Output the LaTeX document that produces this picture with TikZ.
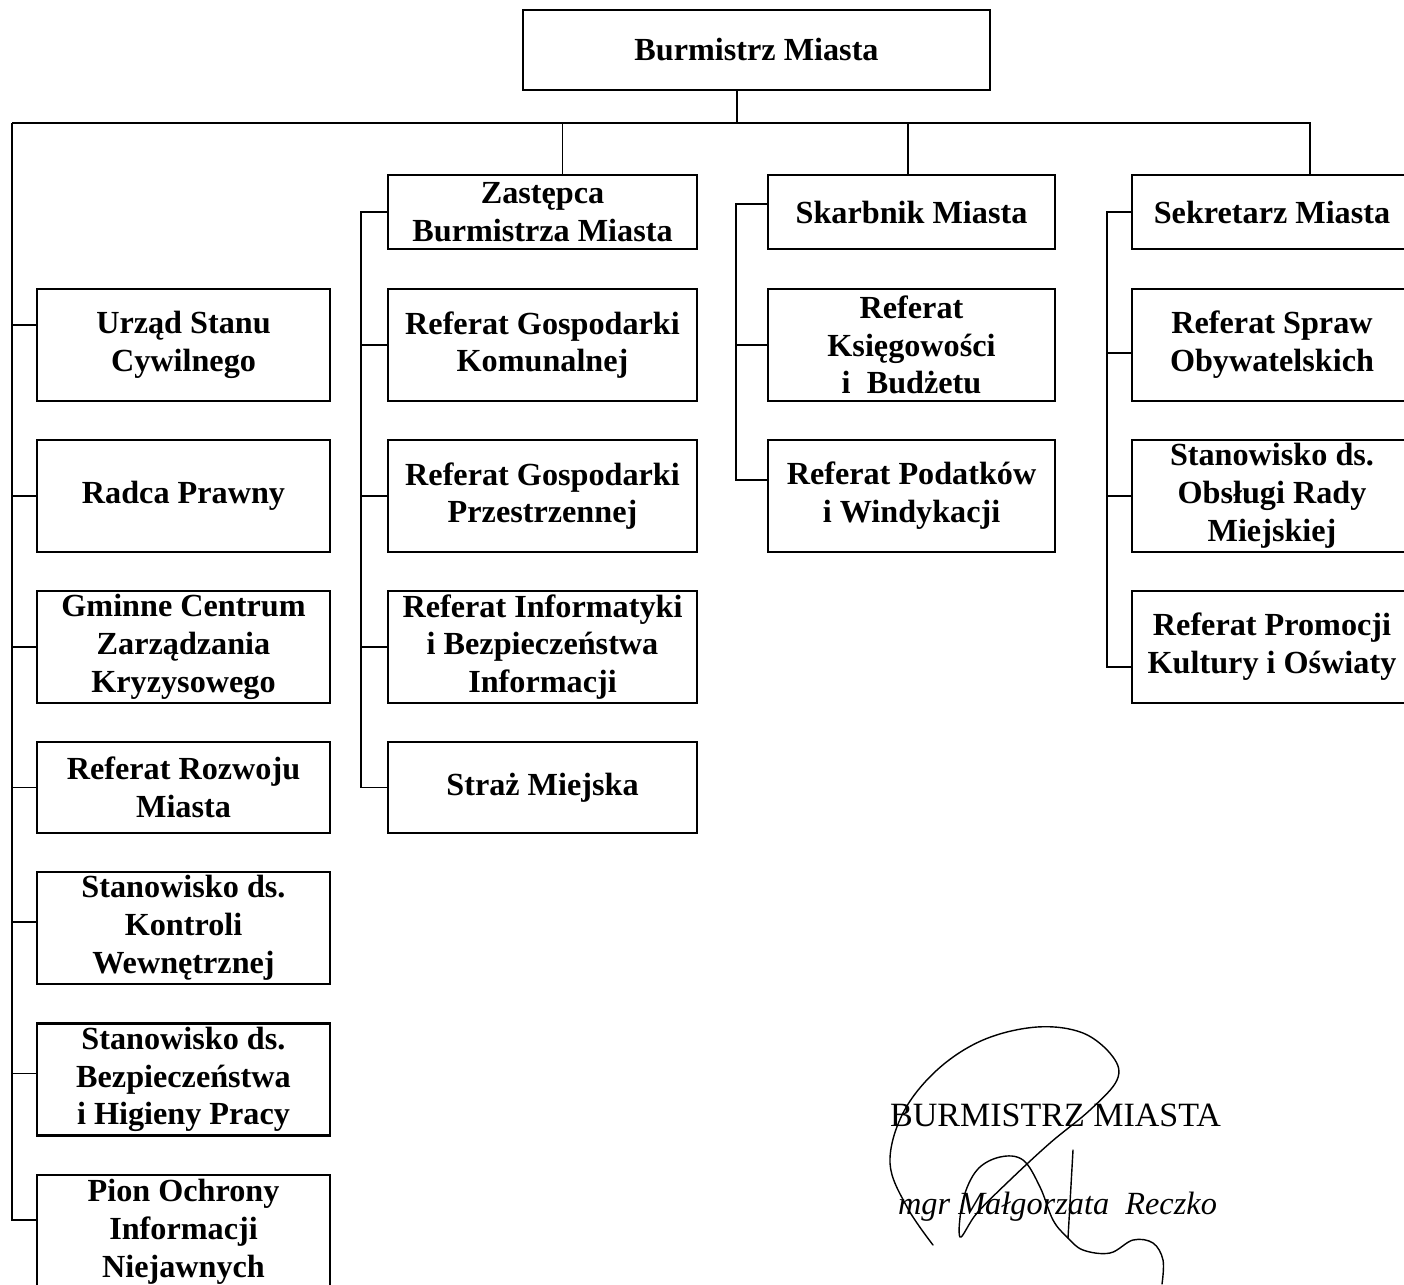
\documentclass[tikz,border=0pt]{standalone}
\usepackage{fontspec}
\setmainfont{Liberation Serif}
\begin{document}
\begin{tikzpicture}[x=0.025cm,y=-0.025cm,line width=1.5pt,
box/.style={draw,align=center,inner sep=0pt,minimum height=2.8cm,font=\bfseries\fontsize{22.9}{26.9}\selectfont},
head/.style={box,minimum height=1.85cm},
short/.style={box,minimum height=2.275cm},
colA/.style={minimum width=7.325cm},
colB/.style={minimum width=7.725cm},
colC/.style={minimum width=7.175cm},
colD/.style={minimum width=7cm},
link/.style={line width=1.3pt},
sign/.style={line width=1pt,line cap=round}]
\useasboundingbox(0,0)rectangle(1404,1284);
\node[box,minimum width=11.675cm,minimum height=2cm](burm)at(756.5,50){Burmistrz Miasta};
\node[head,colB](zast)at(542.5,212){Zastępca\\Burmistrza Miasta};
\node[head,colC](skarb)at(911.5,212){Skarbnik Miasta};
\node[head,colD](sekr)at(1272,212){Sekretarz Miasta};
\node[box,colA](usc)at(183.5,345){Urząd Stanu\\Cywilnego};
\node[box,colA](radca)at(183.5,496){Radca Prawny};
\node[box,colA](gczk)at(183.5,647){Gminne Centrum\\Zarządzania\\Kryzysowego};
\node[short,colA](rozw)at(183.5,787.5){Referat Rozwoju\\Miasta};
\node[box,colA](kontr)at(183.5,928){Stanowisko ds.\\Kontroli\\Wewnętrznej};
\node[box,colA](bhp)at(183.5,1079.5){Stanowisko ds.\\Bezpieczeństwa\\i Higieny Pracy};
\node[box,colA,minimum height=2.85cm](pion)at(183.5,1232){Pion Ochrony\\Informacji\\Niejawnych};
\node[box,colB](komun)at(542.5,345){Referat Gospodarki\\Komunalnej};
\node[box,colB](przestrz)at(542.5,496){Referat Gospodarki\\Przestrzennej};
\node[box,colB](inform)at(542.5,647){Referat Informatyki\\i Bezpieczeństwa\\Informacji};
\node[short,colB](straz)at(542.5,787.5){Straż Miejska};
\node[box,colC](ksieg)at(911.5,345){Referat\\Księgowości\\i\ \ Budżetu};
\node[box,colC](podat)at(911.5,496){Referat Podatków\\i Windykacji};
\node[box,colD](spraw)at(1272,345){Referat Spraw\\Obywatelskich};
\node[box,colD](rada)at(1272,496){Stanowisko ds.\\Obsługi Rady\\Miejskiej};
\node[box,colD](promo)at(1272,647){Referat Promocji\\Kultury i Oświaty};
\coordinate(hub)at(737,123);
\coordinate(lbus)at(12,123);
\path([xshift=0.5cm]zast.north)coordinate(zd);
\path([xshift=-0.09cm]skarb.north)coordinate(kd);
\path([xshift=0.95cm]sekr.north)coordinate(sd);
\draw[link](burm.south-|hub)--(hub);
\draw[link](lbus)--(sd|-hub)--(sd);
\draw[link](zd|-hub)--(zd);
\draw[link](kd|-hub)--(kd);
\draw[link](lbus)|-([yshift=0.3cm]pion.west);
\foreach \n/\s in {usc/0.5,radca/0,gczk/0,rozw/0,kontr/0.15,bhp/0.15}
\draw[link]([yshift=\s cm]\n.west)--([yshift=\s cm]\n.west-|lbus);
\draw[link](zast.west)--++(-26,0)|-(straz.west);
\foreach \n in {komun,przestrz,inform}\draw[link](\n.west)--++(-26,0);
\draw[link]([yshift=0.2cm]skarb.west)--++(-31,0)|-([yshift=0.4cm]podat.west);
\draw[link](ksieg.west)--++(-31,0);
\draw[link](sekr.west)--++(-24,0)|-([yshift=-0.5cm]promo.west);
\draw[link]([yshift=-0.2cm]spraw.west)--++(-24,0);
\draw[link](rada.west)--++(-24,0);
\node[anchor=west,inner sep=0pt,font=\fontsize{24.2}{28}\selectfont](stamp)at(889,1115){BURMISTRZ MIASTA};
\node[anchor=west,inner sep=0pt,font=\itshape\fontsize{23}{26}\selectfont](name)at(897,1207){mgr Małgorzata\ \ Reczko};
\draw[sign]plot[smooth,tension=0.6]coordinates{(933,1245)(907,1207)(890,1163)(903,1113)(937,1070)(983,1040)(1037,1027)(1083,1033)(1113,1057)(1117,1080)(1090,1110)(1050,1143)(1010,1180)(977,1213)(960,1237)(963,1200)(977,1170)(1000,1157)(1023,1160)(1040,1187)(1053,1220)(1067,1237)(1083,1250)(1110,1253)(1133,1240)(1153,1243)(1163,1260)(1162,1284)};
\draw[sign](1073,1150)--(1068,1238);
\end{tikzpicture}
\end{document}
